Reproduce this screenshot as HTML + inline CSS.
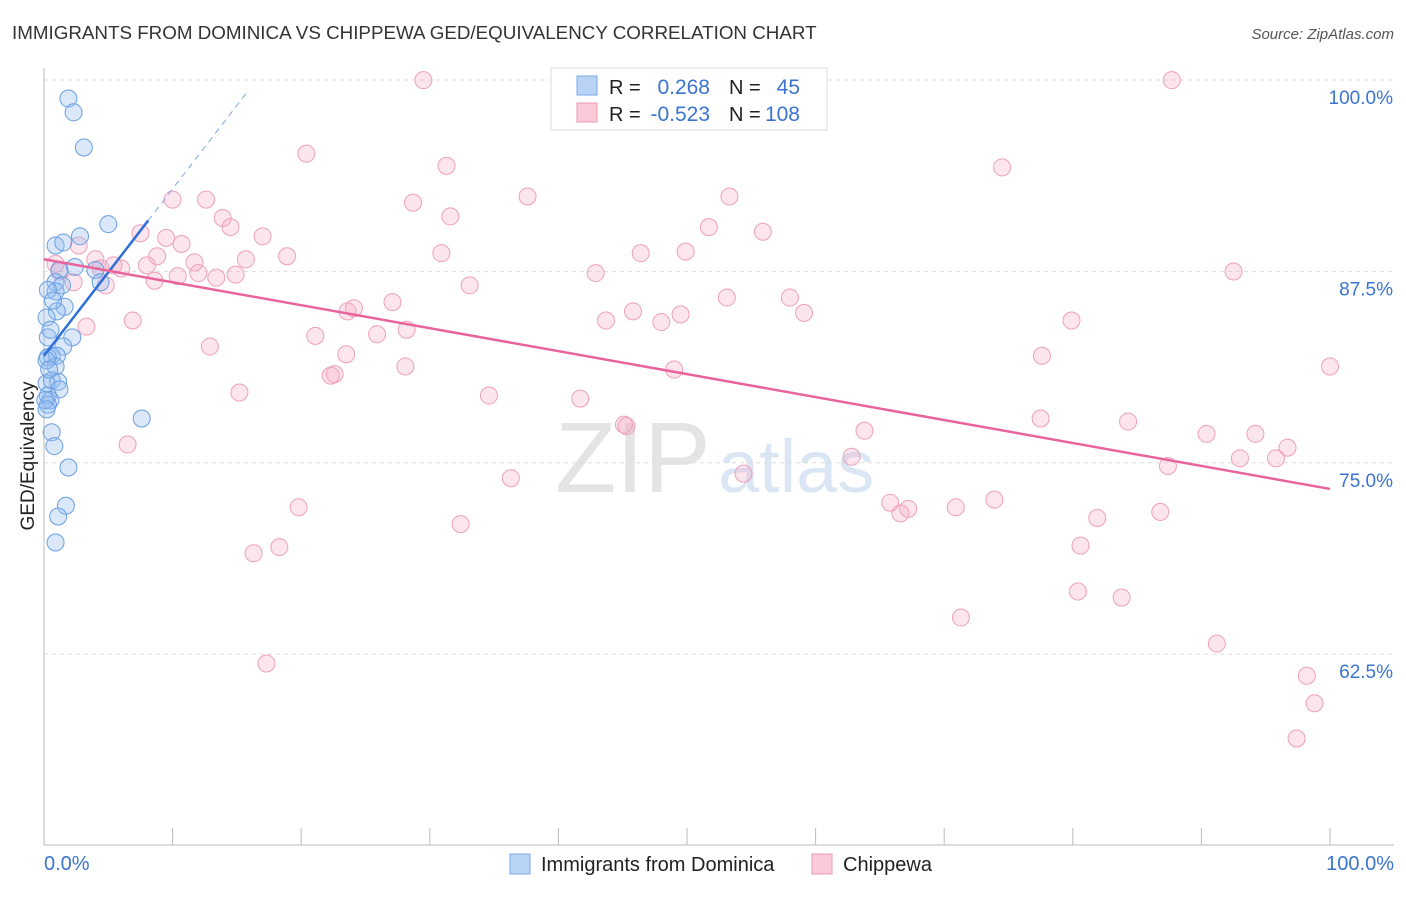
<!DOCTYPE html>
<html><head><meta charset="utf-8"><style>
body{margin:0;background:#fff;font-family:"Liberation Sans",sans-serif;}
svg text{font-family:"Liberation Sans",sans-serif;}
</style></head><body>
<svg id="chart" width="1406" height="892">
<text x="12" y="39" font-size="18.8" fill="#333">IMMIGRANTS FROM DOMINICA VS CHIPPEWA GED/EQUIVALENCY CORRELATION CHART</text>
<text x="1394" y="39" font-size="15" fill="#555" font-style="italic" text-anchor="end">Source: ZipAtlas.com</text>
<text x="555" y="492" font-size="100" fill="#e4e4e4" font-family="Liberation Serif">ZIP</text>
<text x="718" y="492" font-size="74" fill="#dbe6f5">atlas</text>
<g id="grid"></g>
<line x1="44" y1="68" x2="44" y2="845" stroke="#bbb"/>
<line x1="44" y1="845" x2="1394" y2="845" stroke="#bbb"/>
<text transform="translate(34,456) rotate(-90)" font-size="19" fill="#222" text-anchor="middle">GED/Equivalency</text>
<text x="44" y="870" font-size="20" fill="#3a74d0">0.0%</text>
<text x="1394" y="870" font-size="20" fill="#3a74d0" text-anchor="end">100.0%</text>
<g id="points"></g>
<g id="lines"></g>
<g>
<rect x="551" y="68" width="276" height="62" fill="#fff" stroke="#ddd"/>
<rect x="577" y="76" width="20" height="19" fill="#b9d3f5" stroke="#7aa8e6"/>
<rect x="577" y="103" width="20" height="19" fill="#fbc9d8" stroke="#ee9ab6"/>
<text x="609" y="94" font-size="20" fill="#222">R = </text><text x="710" y="94" font-size="21" fill="#3a74d0" text-anchor="end">0.268</text>
<text x="729" y="94" font-size="20" fill="#222">N = </text><text x="800" y="94" font-size="21" fill="#3a74d0" text-anchor="end">45</text>
<text x="609" y="121" font-size="20" fill="#222">R = </text><text x="710" y="121" font-size="21" fill="#3a74d0" text-anchor="end">-0.523</text>
<text x="729" y="121" font-size="20" fill="#222">N = </text><text x="800" y="121" font-size="21" fill="#3a74d0" text-anchor="end">108</text>
</g>
<g>
<rect x="510" y="854" width="20" height="20" fill="#b9d3f5" stroke="#7aa8e6"/>
<text x="541" y="871" font-size="20" fill="#222">Immigrants from Dominica</text></g>
<g>
<rect x="812" y="854" width="20" height="20" fill="#fbc9d8" stroke="#ee9ab6"/>
<text x="843" y="871" font-size="20" fill="#222">Chippewa</text></g>
</svg>
<script>
const yTicks=[100,87.5,75,62.5];
const yTickLabels=["100.0%","87.5%","75.0%","62.5%"];
const xTicks=[0,10,20,30,40,50,60,70,80,90,100];
const blueX=[1.9,2.3,3.1,5.0,0.9,1.5,2.8,2.4,1.2,4.0,4.4,0.9,1.4,0.9,1.6,1.0,0.2,2.2,0.3,1.5,0.6,1.0,0.3,0.9,0.6,1.1,0.2,1.2,0.3,0.5,0.3,0.6,0.8,1.9,7.6,1.7,1.1,0.9,0.3,0.5,0.1,0.2,0.7,0.4,0.2];
const blueY=[99.9,99.0,96.7,91.7,90.3,90.5,90.9,88.9,88.7,88.7,87.9,87.9,87.7,87.3,86.3,86.0,85.6,84.3,84.3,83.7,83.1,83.1,83.0,82.4,81.5,81.4,81.3,80.9,80.5,80.2,79.9,78.1,77.2,75.8,79.0,73.3,72.6,70.9,87.4,84.8,80.2,82.8,86.7,82.2,79.6];
const pinkX=[29.5,87.7,20.4,31.3,74.5,10.0,12.6,28.7,37.6,53.3,13.9,31.6,14.5,51.7,7.5,17.0,55.9,2.7,9.5,10.7,30.9,46.4,49.9,18.9,4.0,8.8,11.7,15.7,0.9,6.0,8.0,1.2,4.4,92.5,42.9,5.4,10.4,12.0,13.4,14.9,8.6,2.3,4.8,33.1,53.1,58.0,27.1,24.1,23.6,43.7,45.8,48.0,49.5,59.1,6.9,79.9,3.3,21.1,25.9,28.2,12.9,23.5,77.6,22.6,22.3,28.1,49.0,100,15.2,34.6,41.7,45.1,45.3,77.5,84.3,63.8,6.5,90.4,94.2,96.7,62.8,93.0,95.8,87.4,54.4,36.3,19.8,32.4,65.8,66.6,67.2,70.9,73.9,81.9,86.8,16.3,18.3,80.6,80.4,83.8,71.3,91.2,17.3,98.2,98.8,97.4];
const pinkY=[101.1,101.1,96.3,95.5,95.4,93.3,93.3,93.1,93.5,93.5,92.1,92.2,91.5,91.5,91.1,90.9,91.2,90.3,90.8,90.4,89.8,89.8,89.9,89.6,89.4,89.6,89.2,89.4,89.1,88.8,89.0,88.6,88.8,88.6,88.5,89.0,88.3,88.5,88.2,88.4,88.0,87.9,87.7,87.7,86.9,86.9,86.6,86.2,86.0,85.4,86.0,85.3,85.8,85.9,85.4,85.4,85.0,84.4,84.5,84.8,83.7,83.2,83.1,81.9,81.8,82.4,82.2,82.4,80.7,80.5,80.3,78.6,78.5,79.0,78.8,78.2,77.3,78.0,78.0,77.1,76.5,76.4,76.4,75.9,75.4,75.1,73.2,72.1,73.5,72.8,73.1,73.2,73.7,72.5,72.9,70.2,70.6,70.7,67.7,67.3,66.0,64.3,63.0,62.2,60.4,58.1];
const blueFit=[83.1,1.09];  // intercept, slope
const pinkFit=[89.4,-0.15];
const NS='http://www.w3.org/2000/svg';
const sx=v=>44+v*12.86;
const sy=v=>97+(100-v)*15.31;
function mk(t,a,p){const e=document.createElementNS(NS,t);for(const k in a)e.setAttribute(k,a[k]);p.appendChild(e);return e;}
const grid=document.getElementById('grid');
yTicks.forEach((t,i)=>{
  const l=mk('line',{x1:44,x2:1394,y1:sy(t)-17,y2:sy(t)-17,stroke:'#ddd','stroke-dasharray':'4,4'},grid);
  
  
  const tx=mk('text',{x:1393,y:sy(t)+7,'font-size':19,fill:'#3a74d0','text-anchor':'end'},grid);
  tx.textContent=yTickLabels[i];
  
  
});
xTicks.forEach(t=>{
  const l=mk('line',{x1:sx(t),x2:sx(t),y1:828,y2:845,stroke:'#bbb'},grid);
  
  
});
const pts=document.getElementById('points');
pinkX.forEach((x,i)=>{
  const c=mk('circle',{cx:sx(x),cy:sy(pinkY[i]),r:8.5,fill:'rgba(244,170,196,0.3)',stroke:'#eea0bb','stroke-width':1},pts);
  
  
});
blueX.forEach((x,i)=>{
  const c=mk('circle',{cx:sx(x),cy:sy(blueY[i]),r:8.5,fill:'rgba(150,190,240,0.35)',stroke:'#6a9fe2','stroke-width':1},pts);
  
  
});
const ln=document.getElementById('lines');
const f=(fit,x)=>fit[0]+fit[1]*x;
let a=mk('line',{x1:sx(0),y1:sy(f(blueFit,0)),x2:sx(8.1),y2:sy(f(blueFit,8.1)),stroke:'#2d6fd6','stroke-width':2.5},ln);


a=mk('line',{x1:sx(8.1),y1:sy(f(blueFit,8.1)),x2:sx(15.9),y2:sy(f(blueFit,15.9)),stroke:'#7aa8e6','stroke-width':1,'stroke-dasharray':'6,5'},ln);


a=mk('line',{x1:sx(0),y1:sy(f(pinkFit,0)),x2:sx(100),y2:sy(f(pinkFit,100)),stroke:'#e8649a','stroke-width':2.5},ln);


</script>
</body></html>
